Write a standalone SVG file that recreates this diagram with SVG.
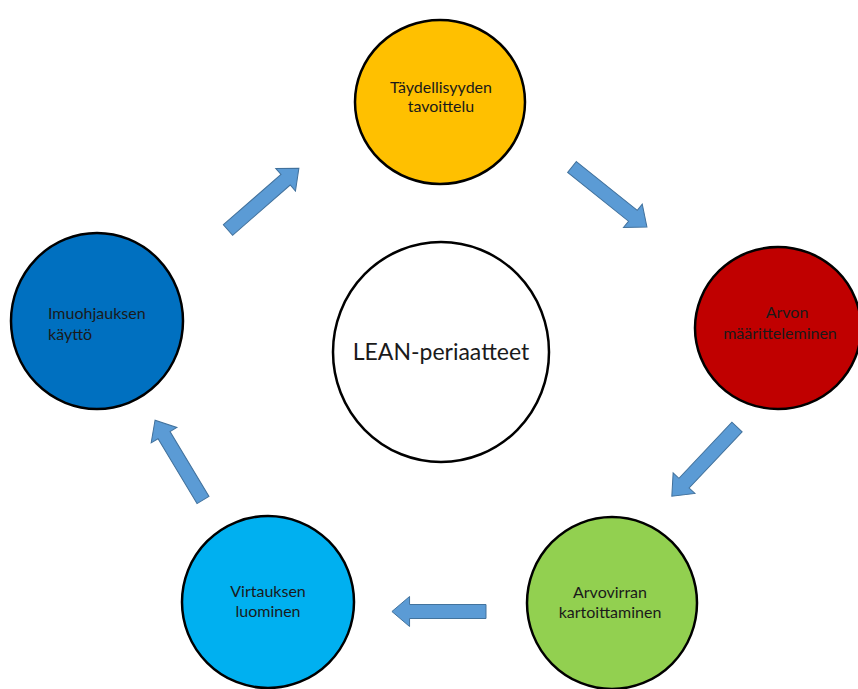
<svg xmlns="http://www.w3.org/2000/svg" width="858" height="689" viewBox="0 0 858 689">
<style>
.node{stroke:#000;stroke-width:2.5}
.t{font-family:Lato,"Liberation Sans",sans-serif;font-size:16px;fill:#1a1a1a}
.c{text-anchor:middle}
.arrow{fill:#5B9BD5;stroke:#41719C;stroke-width:1}
</style>
<defs>
<path id="arr" d="M0,-7 L78,-7 L78,-15 L96,0 L78,15 L78,7 L0,7 Z"/>
</defs>
<rect width="858" height="689" fill="#fff"/>
<g id="yellow">
<ellipse class="node" cx="440" cy="102" rx="85" ry="82" fill="#FFC000"/>
<text class="t c" x="441" y="93">Täydellisyyden</text>
<text class="t c" x="441" y="112">tavoittelu</text>
</g>
<g id="red">
<ellipse class="node" cx="778" cy="328" rx="83" ry="81" fill="#C00000"/>
<text class="t c" x="787" y="318">Arvon</text>
<text class="t c" x="780" y="339">määritteleminen</text>
</g>
<g id="green">
<ellipse class="node" cx="612" cy="603" rx="85" ry="86" fill="#92D050"/>
<text class="t c" x="610" y="598">Arvovirran</text>
<text class="t c" x="610" y="618">kartoittaminen</text>
</g>
<g id="lightblue">
<ellipse class="node" cx="268" cy="602" rx="86" ry="86" fill="#00B0F0"/>
<text class="t c" x="268" y="597">Virtauksen</text>
<text class="t c" x="268" y="617">luominen</text>
</g>
<g id="blue">
<ellipse class="node" cx="97" cy="321" rx="86" ry="88" fill="#0070C0"/>
<text class="t" x="48" y="319">Imuohjauksen</text>
<text class="t" x="48" y="340">käyttö</text>
</g>
<g id="center">
<ellipse class="node" cx="441" cy="352" rx="108" ry="110" fill="#fff"/>
<text class="t c" x="441" y="360" style="font-size:23px">LEAN-periaatteet</text>
</g>
<g id="connectors">
<use href="#arr" class="arrow" transform="translate(228,230) rotate(-41.1) scale(0.98,1)"/>
<use href="#arr" class="arrow" transform="translate(572,167) rotate(38.7)"/>
<use href="#arr" class="arrow" transform="translate(737,427) rotate(133.3) scale(0.99,1)"/>
<use href="#arr" class="arrow" transform="translate(486,611.5) rotate(180) scale(0.98,1)"/>
<use href="#arr" class="arrow" transform="translate(203,500) rotate(-121) scale(0.97,1)"/>
</g>
</svg>
